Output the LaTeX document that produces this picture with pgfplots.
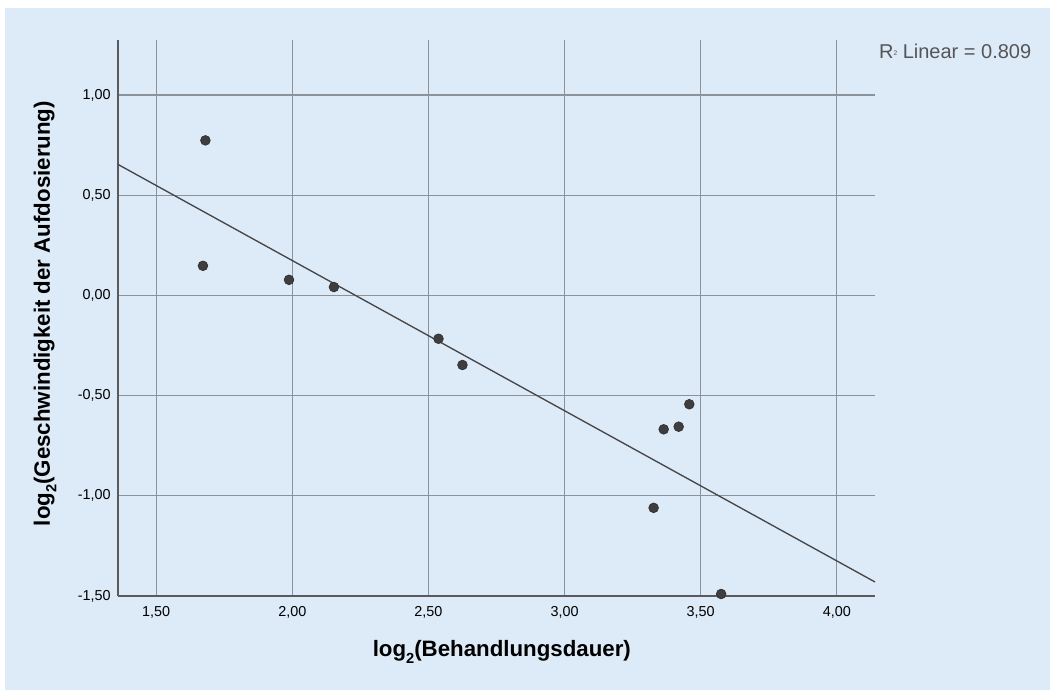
\documentclass[border=0pt]{standalone}
\usepackage{fontspec}
\setmainfont{Liberation Sans}
\usepackage{pgfplots}
\pgfplotsset{compat=1.18}
\definecolor{bgblue}{RGB}{221,234,247}
\definecolor{gridgray}{RGB}{140,146,154}
\definecolor{axisgray}{RGB}{90,90,92}
\definecolor{ptfill}{RGB}{62,62,64}
\definecolor{linegray}{RGB}{70,70,72}
\definecolor{rgray}{RGB}{85,85,88}
\newcommand{\subtwo}{\raisebox{-0.55ex}{\fontsize{11}{11}\selectfont\bfseries 2}}
\begin{document}
\begin{tikzpicture}
\useasboundingbox (-88.5pt,-70.5pt) rectangle (699pt,447pt);
\fill[white] (-88.5pt,-70.5pt) rectangle (699pt,447pt);
\fill[bgblue] (-84.75pt,-70.5pt) rectangle (699pt,441pt);
\begin{axis}[
  scale only axis,
  width=567.75pt, height=417pt,
  at={(0,0)}, anchor=south west,
  xmin=1.36, xmax=4.14,
  ymin=-1.5, ymax=1.275,
  axis lines*=left,
  axis line style={axisgray, line width=1.5pt},
  separate axis lines,
  x axis line style={-}, y axis line style={-},
  xtick={1.5,2,2.5,3,3.5,4},
  ytick={-1.5,-1,-0.5,0,0.5,1},
  major tick length=0pt,
  grid=major,
  major grid style={gridgray, line width=0.9pt},
  /pgf/number format/.cd, use comma, fixed, fixed zerofill, precision=2, assume math mode=true,
  /pgfplots/.cd,
  ticklabel style={font=\fontsize{10.8}{12}\selectfont, text=black},
  xticklabel style={yshift=-4pt},
  yticklabel style={xshift=-2pt},
  xlabel={\textbf{log\subtwo(Behandlungsdauer)}},
  ylabel={\textbf{log\subtwo(Geschwindigkeit der Aufdosierung)}},
  label style={font=\fontsize{16.7}{19}\selectfont},
  xlabel style={at={(axis description cs:0.507,-0.1007)}, anchor=center},
  ylabel style={at={(axis description cs:-0.0964,0.508)}, anchor=center, rotate=0},
  clip=false,
]
\addplot[only marks, mark=*, mark size=3.6pt, mark options={fill=ptfill, draw=black!80, line width=0.6pt}] coordinates {
  (1.681,0.774) (1.672,0.148) (1.988,0.078) (2.153,0.042)
  (2.537,-0.216) (2.625,-0.347) (3.458,-0.543) (3.419,-0.655)
  (3.364,-0.668) (3.327,-1.060) (3.575,-1.49)
};
\addplot[linegray, line width=1pt] coordinates {(1.36,0.654) (4.14,-1.43)};
\node[anchor=west, text=rgray, font=\fontsize{15}{17}\selectfont, inner sep=0pt] at (rel axis cs:1.005,0.979) {R\raisebox{0.35ex}{\fontsize{5}{5}\selectfont 2} Linear = 0.809};
\end{axis}
\end{tikzpicture}
\end{document}
